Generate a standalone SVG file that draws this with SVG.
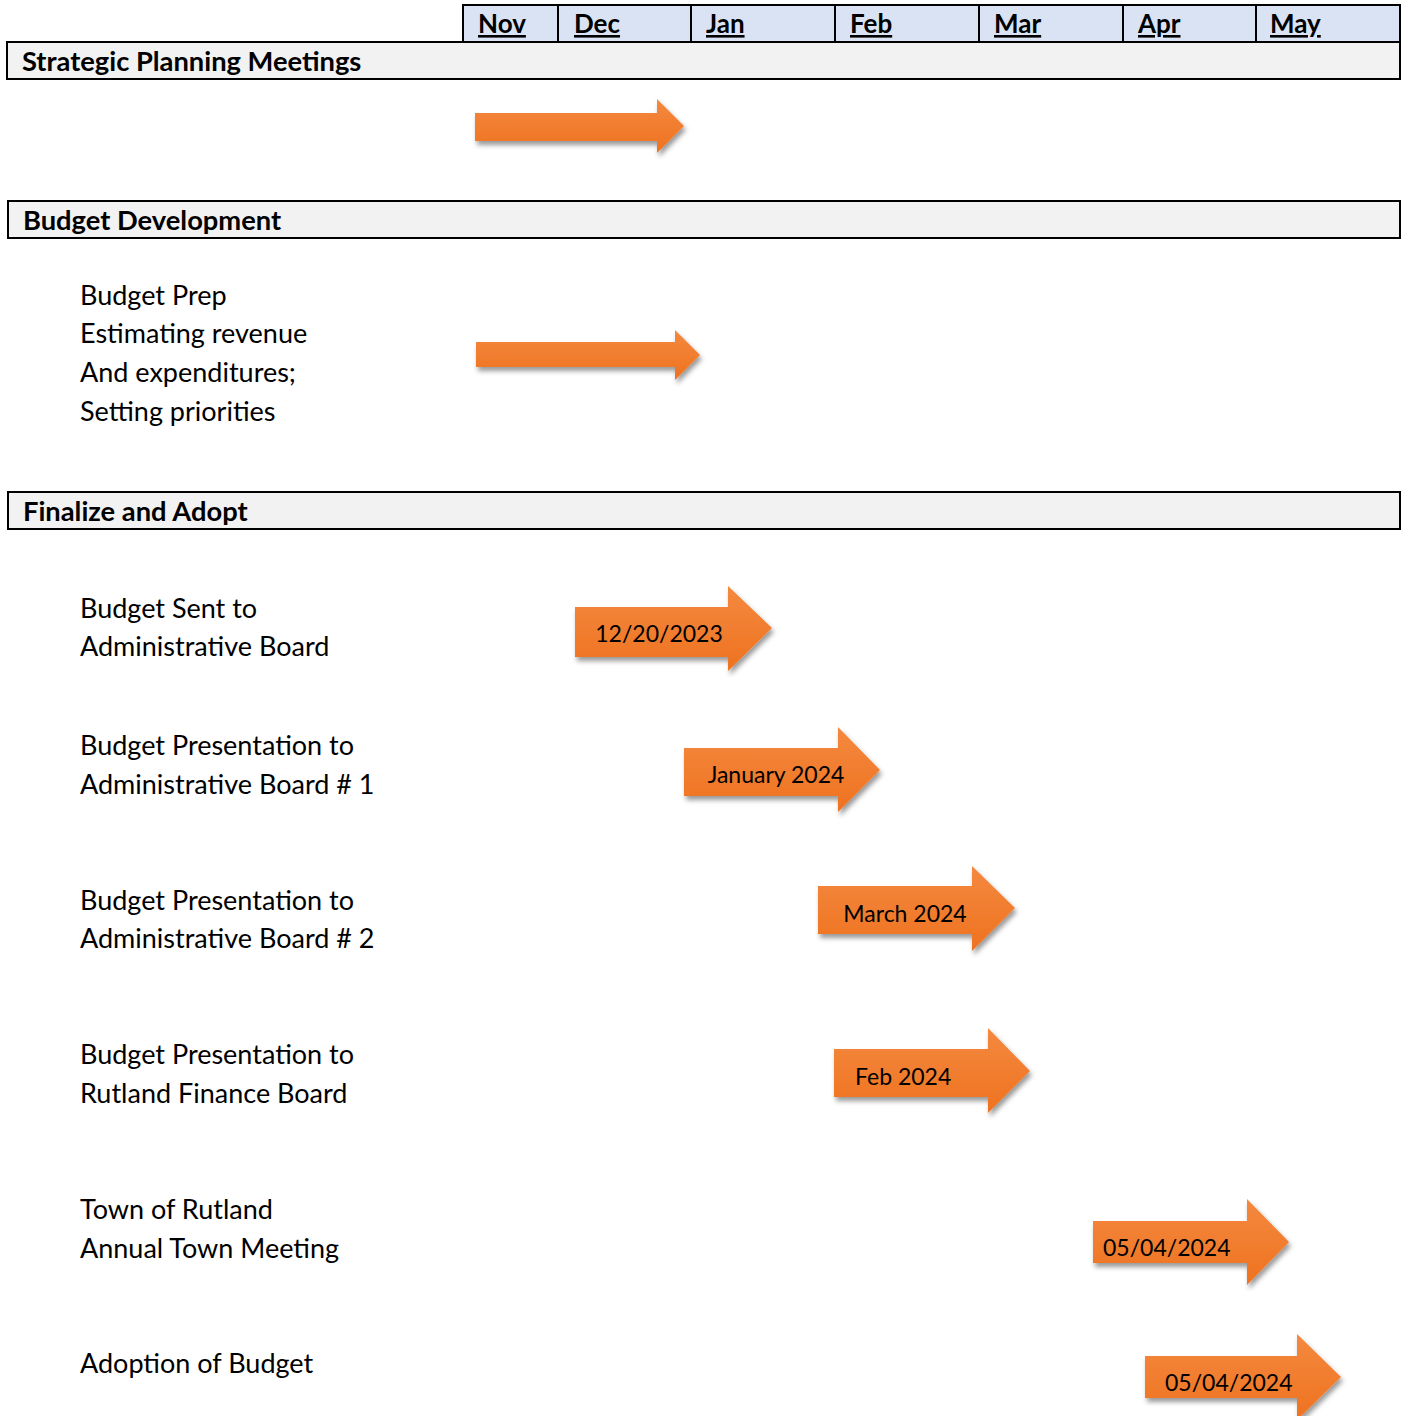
<svg xmlns="http://www.w3.org/2000/svg" width="1406" height="1416" viewBox="0 0 1406 1416">
<style>
.t{font-family:Lato,"Liberation Sans",sans-serif;font-size:27px;fill:#000}
.b{font-weight:bold;font-size:27.3px}
.m{font-family:Lato,"Liberation Sans",sans-serif;font-size:26px;font-weight:bold;text-decoration:underline;fill:#000}
.bar{fill:#F2F2F2;stroke:#000;stroke-width:2}
.hdr{fill:#DAE3F3;stroke:#000;stroke-width:2}
.arr{fill:url(#og);filter:url(#sh)}
.at{font-family:Lato,"Liberation Sans",sans-serif;font-size:23px;fill:#000}
</style>
<defs>
<linearGradient id="og" x1="0" y1="0" x2="0" y2="1">
<stop offset="0" stop-color="#F4893F"/>
<stop offset="1" stop-color="#EE7220"/>
</linearGradient>
<filter id="sh" x="-10%" y="-20%" width="130%" height="150%">
<feDropShadow dx="2" dy="4" stdDeviation="2.5" flood-color="#000" flood-opacity="0.4"/>
</filter>
</defs>
<rect width="1406" height="1416" fill="#fff"/>
<g id="months">
<rect class="hdr" x="463" y="5" width="937" height="37"/>
<g stroke="#000" stroke-width="2">
<line x1="558" y1="5" x2="558" y2="42"/>
<line x1="691" y1="5" x2="691" y2="42"/>
<line x1="835" y1="5" x2="835" y2="42"/>
<line x1="979" y1="5" x2="979" y2="42"/>
<line x1="1123" y1="5" x2="1123" y2="42"/>
<line x1="1256" y1="5" x2="1256" y2="42"/>
</g>
<text class="m" x="478" y="33">Nov</text>
<text class="m" x="574" y="33">Dec</text>
<text class="m" x="706" y="33">Jan</text>
<text class="m" x="850" y="33">Feb</text>
<text class="m" x="994" y="33">Mar</text>
<text class="m" x="1138" y="33">Apr</text>
<text class="m" x="1270" y="33">May</text>
</g>
<g id="sec-strategic">
<rect class="bar" x="7" y="42" width="1393" height="37"/>
<text class="t b" x="22" y="71">Strategic Planning Meetings</text>
</g>
<g id="sec-budget-dev">
<rect class="bar" x="8" y="201" width="1392" height="37"/>
<text class="t b" x="23" y="230">Budget Development</text>
</g>
<g id="sec-finalize">
<rect class="bar" x="8" y="492" width="1392" height="37"/>
<text class="t b" x="23" y="521">Finalize and Adopt</text>
</g>
<g id="labels">
<text class="t" x="80" y="305">Budget Prep</text>
<text class="t" x="80" y="343">Estimating revenue</text>
<text class="t" x="80" y="382">And expenditures;</text>
<text class="t" x="80" y="421">Setting priorities</text>
<text class="t" x="80" y="618">Budget Sent to</text>
<text class="t" x="80" y="656">Administrative Board</text>
<text class="t" x="80" y="755">Budget Presentation to</text>
<text class="t" x="80" y="794">Administrative Board # 1</text>
<text class="t" x="80" y="910">Budget Presentation to</text>
<text class="t" x="80" y="948">Administrative Board # 2</text>
<text class="t" x="80" y="1064">Budget Presentation to</text>
<text class="t" x="80" y="1103">Rutland Finance Board</text>
<text class="t" x="80" y="1219">Town of Rutland</text>
<text class="t" x="80" y="1258">Annual Town Meeting</text>
<text class="t" x="80" y="1373">Adoption of Budget</text>
</g>
<g id="arrows">
<g id="arrow-strategic"><path class="arr" d="M475,113 H657 V99 L684,126 L657,153 V141 H475 Z"/></g>
<g id="arrow-budget-prep"><path class="arr" d="M476,342 H675 V330 L700,355 L675,380 V367 H476 Z"/></g>
<g id="arrow-sent"><path class="arr" d="M575,607 H728 V586 L772,628 L728,671 V657 H575 Z"/><text class="at" x="659" y="642" text-anchor="middle">12/20/2023</text></g>
<g id="arrow-pres1"><path class="arr" d="M684,748 H838 V727 L880,770 L838,812 V796 H684 Z"/><text class="at" x="776" y="783" text-anchor="middle">January 2024</text></g>
<g id="arrow-pres2"><path class="arr" d="M818,886 H972 V866 L1015,908 L972,951 V934 H818 Z"/><text class="at" x="905" y="922" text-anchor="middle">March 2024</text></g>
<g id="arrow-finance"><path class="arr" d="M834,1049 H988 V1028 L1030,1071 L988,1113 V1097 H834 Z"/><text class="at" x="855" y="1085">Feb 2024</text></g>
<g id="arrow-town"><path class="arr" d="M1093,1221 H1247 V1199 L1289,1242 L1247,1285 V1263 H1093 Z"/><text class="at" x="1103" y="1256">05/04/2024</text></g>
<g id="arrow-adopt"><path class="arr" d="M1145,1356 H1297 V1334 L1341,1377 L1297,1420 V1398 H1145 Z"/><text class="at" x="1165" y="1391">05/04/2024</text></g>
</g>
</svg>
